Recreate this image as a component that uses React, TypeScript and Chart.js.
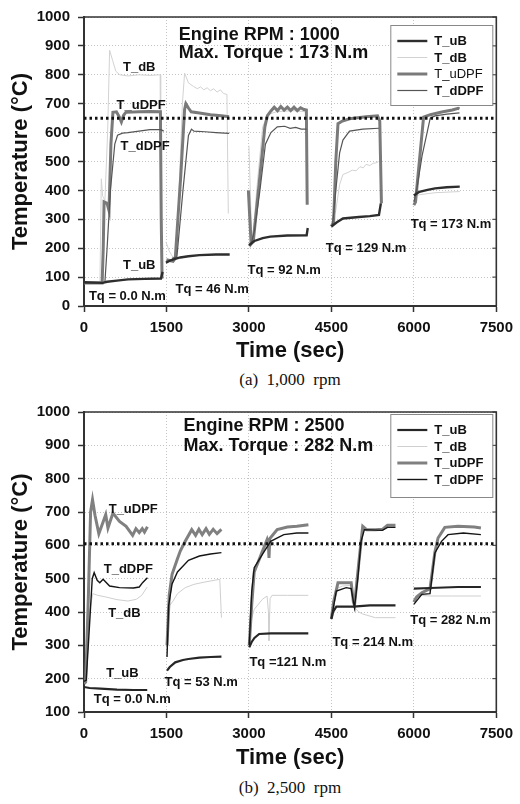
import React, { useEffect, useRef } from "react";
import { Chart, registerables } from "chart.js";
Chart.register(...registerables);

type Pt = [number, number];
type Seg = Pt[];

const FONT = '"Liberation Sans", Arial, Helvetica, sans-serif';
const SERIES = ["T_uB", "T_dB", "T_uDPF", "T_dDPF"];
const X_MAX = 7500;
const X_STEP = 1500;

// ---------- (a) 1,000 rpm ----------
const A_UB: Seg[] = [
  [[0, 82], [340, 80], [420, 84], [600, 88], [800, 92], [1100, 94], [1400, 95], [1430, 118]],
  [[1490, 150], [1600, 160], [1750, 168], [1900, 172], [2100, 176], [2400, 178], [2650, 178]],
  [[3000, 210], [3100, 225], [3250, 235], [3390, 240], [3700, 244], [4050, 245], [4070, 270]],
  [[4500, 275], [4600, 290], [4710, 303], [5000, 308], [5200, 311], [5365, 315], [5400, 355]],
  [[6000, 382], [6100, 395], [6250, 402], [6386, 407], [6600, 411], [6835, 413]],
];
const A_DB: Seg[] = [
  [[0, 80], [290, 84], [315, 440], [340, 380], [380, 365], [430, 600], [466, 885], [520, 850], [580, 812], [650, 800], [800, 796], [1000, 800], [1200, 798], [1385, 800], [1395, 210]],
  [[1490, 222], [1550, 190], [1620, 168], [1680, 175], [1730, 400], [1790, 700], [1830, 806], [1900, 772], [1990, 760], [2060, 752], [2120, 758], [2180, 748], [2240, 755], [2300, 745], [2360, 752], [2420, 740], [2480, 748], [2540, 735], [2600, 732], [2625, 320]],
  [[3000, 555], [3040, 300], [3065, 220], [3150, 420], [3250, 620], [3340, 662], [3500, 672], [3800, 676], [4040, 672], [4060, 420]],
  [[4500, 285], [4580, 330], [4650, 420], [4710, 455], [4800, 462], [4880, 470], [4950, 468], [5020, 482], [5080, 478], [5130, 490], [5200, 486], [5260, 494], [5310, 495], [5360, 500]],
  [[6000, 378], [6100, 385], [6386, 392], [6835, 396]],
];
const A_UDPF: Seg[] = [
  [[0, 80], [330, 80], [350, 200], [365, 360], [420, 355], [455, 330], [490, 560], [526, 670], [590, 672], [640, 655], [680, 637], [720, 660], [760, 670], [1000, 672], [1200, 673], [1390, 672], [1405, 300], [1420, 95]],
  [[1500, 160], [1620, 155], [1660, 165], [1760, 450], [1830, 680], [1853, 700], [1900, 685], [1950, 672], [2100, 668], [2300, 662], [2500, 658], [2640, 655]],
  [[2990, 400], [3040, 215], [3080, 225], [3200, 450], [3290, 620], [3337, 659], [3400, 675], [3460, 688], [3520, 676], [3580, 690], [3640, 678], [3700, 688], [3760, 676], [3820, 688], [3880, 676], [3940, 686], [4000, 680], [4045, 678], [4060, 350]],
  [[4500, 275], [4540, 290], [4580, 500], [4620, 631], [4700, 640], [4830, 648], [5130, 655], [5340, 658], [5380, 640], [5410, 355]],
  [[6000, 349], [6030, 360], [6100, 500], [6177, 654], [6300, 662], [6507, 671], [6700, 678], [6806, 684], [6830, 682]],
];
const A_DDPF: Seg[] = [
  [[0, 80], [380, 82], [420, 200], [480, 400], [560, 560], [610, 591], [700, 598], [800, 600], [1000, 605], [1200, 610], [1400, 610], [1450, 605]],
  [[1600, 165], [1690, 170], [1800, 400], [1900, 590], [1955, 612], [2000, 605], [2200, 603], [2400, 600], [2640, 597]],
  [[3050, 220], [3100, 260], [3200, 400], [3300, 560], [3400, 600], [3516, 620], [3650, 622], [3750, 615], [3850, 618], [3950, 612], [4050, 612]],
  [[4520, 280], [4580, 400], [4650, 530], [4710, 574], [4830, 605], [5070, 612], [5365, 615]],
  [[6000, 360], [6050, 400], [6150, 520], [6298, 650], [6386, 658], [6600, 664], [6830, 668]],
];
const A_REF = 650;
const A_Y_MIN = 0;
const A_HEAD = ["Engine RPM : 1000", "Max. Torque : 173 N.m"];
const A_HEAD_AT: Pt[] = [[1722, 939], [1722, 876]];
const A_LABEL_TEXT = ["T_dB", "T_uDPF", "T_dDPF", "T_uB", "Tq = 0.0 N.m", "Tq = 46 N.m", "Tq = 92 N.m", "Tq = 129 N.m", "Tq = 173 N.m"];
const A_LABEL_AT: Pt[] = [[1005, 827], [1040, 695], [1112, 553], [1005, 139], [789, 34], [2332, 58], [3642, 122], [5131, 200], [6674, 281]];

// ---------- (b) 2,500 rpm ----------
const B_UB: Seg[] = [
  [[0, 175], [100, 172], [300, 170], [600, 167], [900, 166], [1150, 166]],
  [[1510, 224], [1560, 235], [1660, 249], [1800, 256], [1900, 259], [2100, 263], [2300, 265], [2500, 266]],
  [[3006, 294], [3050, 310], [3100, 322], [3186, 334], [3400, 336], [3700, 336], [4080, 336]],
  [[4500, 379], [4530, 400], [4590, 416], [4900, 416], [5200, 420], [5666, 420]],
  [[6000, 470], [6300, 472], [6800, 475], [7220, 475]],
];
const B_DB: Seg[] = [
  [[0, 190], [40, 200], [100, 400], [160, 455], [250, 450], [400, 445], [600, 437], [800, 433], [950, 438], [1050, 450], [1150, 475]],
  [[1510, 300], [1560, 420], [1620, 433], [1700, 455], [1841, 473], [2000, 483], [2200, 490], [2400, 496], [2470, 498], [2500, 383]],
  [[3006, 300], [3050, 380], [3096, 408], [3245, 438], [3330, 448], [3355, 400], [3365, 314], [3385, 440], [3420, 450], [3700, 450], [4080, 450]],
  [[4500, 380], [4590, 470], [4700, 478], [4860, 480], [4920, 413], [5000, 400], [5070, 394], [5300, 383], [5666, 383]],
  [[6000, 440], [6100, 450], [6300, 448], [6700, 448], [7220, 448]],
];
const B_UDPF: Seg[] = [
  [[0, 185], [30, 190], [80, 450], [120, 700], [155, 737], [200, 690], [270, 635], [395, 692], [436, 652], [526, 697], [646, 672], [766, 657], [885, 630], [945, 650], [1005, 638], [1060, 650], [1100, 640], [1154, 656]],
  [[1510, 300], [1550, 450], [1602, 513], [1700, 560], [1751, 583], [1841, 612], [1960, 647], [2030, 630], [2090, 648], [2150, 632], [2220, 650], [2280, 633], [2350, 648], [2420, 635], [2480, 645], [2500, 648]],
  [[3006, 300], [3050, 420], [3096, 520], [3245, 582], [3330, 617], [3355, 600], [3365, 562], [3380, 620], [3514, 647], [3700, 655], [3873, 657], [4082, 662]],
  [[4500, 380], [4540, 430], [4620, 488], [4860, 488], [4900, 430], [4920, 420], [5000, 550], [5070, 657], [5140, 647], [5300, 647], [5428, 648], [5520, 660], [5666, 660]],
  [[6000, 430], [6050, 445], [6145, 458], [6294, 470], [6383, 580], [6440, 622], [6563, 654], [6800, 657], [7100, 655], [7220, 652]],
];
const B_DDPF: Seg[] = [
  [[0, 192], [40, 195], [100, 360], [150, 500], [185, 518], [240, 495], [287, 488], [347, 498], [466, 478], [646, 473], [900, 472], [1005, 475], [1065, 488], [1154, 503]],
  [[1510, 265], [1540, 420], [1602, 484], [1700, 520], [1900, 555], [2100, 568], [2300, 574], [2500, 578]],
  [[3006, 300], [3050, 460], [3096, 533], [3245, 573], [3395, 612], [3634, 632], [3873, 637], [4082, 637]],
  [[4500, 380], [4590, 463], [4770, 473], [4860, 470], [4920, 413], [4980, 500], [5040, 612], [5100, 647], [5428, 645], [5520, 654], [5666, 654]],
  [[6000, 423], [6145, 453], [6294, 455], [6383, 577], [6503, 612], [6622, 632], [6900, 637], [7220, 632]],
];
const B_REF = 605;
const B_Y_MIN = 100;
const B_HEAD = ["Engine RPM : 2500", "Max. Torque : 282 N.m"];
const B_HEAD_AT: Pt[] = [[1810, 958], [1810, 899]];
const B_LABEL_TEXT = ["T_uDPF", "T_dDPF", "T_dB", "T_uB", "Tq = 0.0 N.m", "Tq = 53 N.m", "Tq =121 N.m", "Tq = 214 N.m", "Tq = 282 N.m"];
const B_LABEL_AT: Pt[] = [[896, 708], [806, 529], [735, 397], [699, 216], [878, 138], [2132, 189], [3709, 248], [5251, 308], [6666, 374]];

// ---------- styles ----------
type Style = { color: string; width: number; bold: boolean };
const A_STYLE: Style[] = [
  { color: "#2e2e2e", width: 2.4, bold: true },
  { color: "#d2d2d2", width: 1, bold: true },
  { color: "#7a7a7a", width: 3, bold: false },
  { color: "#555555", width: 1.2, bold: true },
];
const B_STYLE: Style[] = [
  { color: "#262626", width: 2.2, bold: true },
  { color: "#cfcfcf", width: 1, bold: true },
  { color: "#808080", width: 3, bold: true },
  { color: "#151515", width: 1.4, bold: true },
];

function toData(segs: Seg[]) {
  const out: { x: number; y: number | null }[] = [];
  segs.forEach((s, i) => {
    if (i > 0) out.push({ x: s[0][0] - 1, y: null });
    s.forEach(([x, y]) => out.push({ x, y }));
  });
  return out;
}

type Spec = {
  series: Seg[][];
  styles: Style[];
  ref: number;
  yMin: number;
  head: string[];
  headAt: Pt[];
  labelText: string[];
  labelAt: Pt[];
  padTop: number;
  padRight: number;
  xAxisH: number;
  legendTop: number;
  legendH: number;
};

function makeChart(canvas: HTMLCanvasElement, sp: Spec) {
  const yTicksCount = Math.round((1000 - sp.yMin) / 100);
  const decor = {
    id: "decor",
    afterDraw(chart: any) {
      const { ctx, chartArea: ca, scales } = chart;
      const xs = scales.x;
      const ys = scales.y;
      ctx.save();
      ctx.strokeStyle = "#333";
      ctx.lineWidth = 1.6;
      ctx.beginPath();
      ctx.moveTo(ca.left, ca.top);
      ctx.lineTo(ca.right, ca.top);
      ctx.lineTo(ca.right, ca.bottom);
      ctx.stroke();
      ctx.lineWidth = 1;
      ctx.beginPath();
      for (let i = 0; i <= yTicksCount; i++) {
        const y = ys.getPixelForValue(sp.yMin + i * 100);
        ctx.moveTo(ca.right, y);
        ctx.lineTo(ca.right - 4, y);
      }
      ctx.stroke();
      ctx.fillStyle = "#111";
      ctx.textBaseline = "middle";
      ctx.textAlign = "left";
      ctx.font = `bold 18px ${FONT}`;
      sp.head.forEach((t, i) => {
        ctx.fillText(t, xs.getPixelForValue(sp.headAt[i][0]), ys.getPixelForValue(sp.headAt[i][1]));
      });
      ctx.textAlign = "center";
      ctx.font = `bold 13px ${FONT}`;
      sp.labelText.forEach((t, i) => {
        ctx.fillText(t, xs.getPixelForValue(sp.labelAt[i][0]), ys.getPixelForValue(sp.labelAt[i][1]));
      });
      const bw = 102;
      const bx = ca.right - 106;
      const by = ca.top + sp.legendTop;
      ctx.fillStyle = "#fff";
      ctx.fillRect(bx, by, bw, sp.legendH);
      ctx.strokeStyle = "#888";
      ctx.lineWidth = 1;
      ctx.strokeRect(bx + 0.5, by + 0.5, bw, sp.legendH);
      ctx.textAlign = "left";
      SERIES.forEach((name, i) => {
        const st = sp.styles[i];
        const y = by + 16 + i * 16.5;
        ctx.strokeStyle = st.color;
        ctx.lineWidth = st.width;
        ctx.beginPath();
        ctx.moveTo(bx + 7, y);
        ctx.lineTo(bx + 37, y);
        ctx.stroke();
        ctx.fillStyle = "#111";
        ctx.font = `${st.bold ? "bold " : ""}13px ${FONT}`;
        ctx.fillText(name, bx + 44, y + 0.5);
      });
      ctx.restore();
    },
  };

  const order = [0, 3, 2, 1];
  const datasets: any[] = [
    {
      label: "ref",
      data: [{ x: 0, y: sp.ref }, { x: X_MAX, y: sp.ref }],
      borderColor: "#111",
      borderWidth: 3,
      borderDash: [2.5, 3],
      pointRadius: 0,
    },
    ...order.map((i) => ({
      label: SERIES[i],
      data: toData(sp.series[i]),
      borderColor: sp.styles[i].color,
      borderWidth: sp.styles[i].width,
      pointRadius: 0,
      tension: 0,
      spanGaps: false,
    })),
  ];

  const tickFont = { family: FONT, size: 15, weight: "bold" as const };
  const titleFont = { family: FONT, size: 22, weight: "bold" as const };
  const grid = {
    color: "#c4c4c4",
    lineWidth: 1,
    drawTicks: true,
    tickLength: 6,
    tickColor: "#333",
    tickWidth: 1.5,
  };
  const border = { display: true, color: "#333", width: 2, dash: [1, 2] };
  const plain = (v: any) => String(v);

  return new Chart(canvas, {
    type: "line",
    data: { datasets },
    plugins: [decor],
    options: {
      responsive: false,
      animation: false,
      devicePixelRatio: 1,
      layout: { padding: { top: sp.padTop, right: sp.padRight, left: 0, bottom: 0 } },
      plugins: { legend: { display: false }, tooltip: { enabled: false } },
      scales: {
        x: {
          type: "linear",
          min: 0,
          max: X_MAX,
          ticks: { stepSize: X_STEP, font: tickFont, color: "#111", padding: 7, maxRotation: 0, callback: plain },
          grid,
          border,
          title: { display: true, text: "Time (sec)", font: titleFont, color: "#111", padding: { top: 0, bottom: 4 } },
          afterFit: (s: any) => {
            s.height = sp.xAxisH;
          },
        },
        y: {
          type: "linear",
          min: sp.yMin,
          max: 1000,
          ticks: { stepSize: 100, font: tickFont, color: "#111", padding: 8, callback: plain },
          grid,
          border,
          title: { display: true, text: "Temperature (\u00B0C)", font: titleFont, color: "#111", padding: { top: 8, bottom: 0 } },
          afterFit: (s: any) => {
            s.width = 84;
          },
        },
      },
    } as any,
  });
}

const SPEC_A: Spec = {
  series: [A_UB, A_DB, A_UDPF, A_DDPF],
  styles: A_STYLE,
  ref: A_REF,
  yMin: A_Y_MIN,
  head: A_HEAD,
  headAt: A_HEAD_AT,
  labelText: A_LABEL_TEXT,
  labelAt: A_LABEL_AT,
  padTop: 11,
  padRight: 18,
  xAxisH: 62,
  legendTop: 8,
  legendH: 80,
};
const SPEC_B: Spec = {
  series: [B_UB, B_DB, B_UDPF, B_DDPF],
  styles: B_STYLE,
  ref: B_REF,
  yMin: B_Y_MIN,
  head: B_HEAD,
  headAt: B_HEAD_AT,
  labelText: B_LABEL_TEXT,
  labelAt: B_LABEL_AT,
  padTop: 15,
  padRight: 17,
  xAxisH: 63,
  legendTop: 2,
  legendH: 83,
};

function Panel({ spec, top, height }: { spec: Spec; top: number; height: number }) {
  const ref = useRef<HTMLCanvasElement>(null);
  useEffect(() => {
    if (!ref.current) return;
    const c = makeChart(ref.current, spec);
    return () => c.destroy();
  }, [spec]);
  return (
    <canvas
      ref={ref}
      width={520}
      height={height}
      style={{ position: "absolute", left: 0, top, width: 520, height }}
    />
  );
}

const captionStyle: React.CSSProperties = {
  position: "absolute",
  left: 0,
  width: 580,
  textAlign: "center",
  fontFamily: '"Liberation Serif", "Times New Roman", serif',
  fontSize: 17,
  color: "#111",
  whiteSpace: "pre",
  lineHeight: "20px",
};

export default function App() {
  return (
    <div style={{ position: "absolute", left: 0, top: 0, width: 520, height: 804, background: "#fff", overflow: "hidden" }}>
      <Panel spec={SPEC_A} top={0} height={368} />
      <div style={{ ...captionStyle, top: 370 }}>{"(a)  1,000  rpm"}</div>
      <Panel spec={SPEC_B} top={395} height={380} />
      <div style={{ ...captionStyle, top: 778 }}>{"(b)  2,500  rpm"}</div>
    </div>
  );
}
